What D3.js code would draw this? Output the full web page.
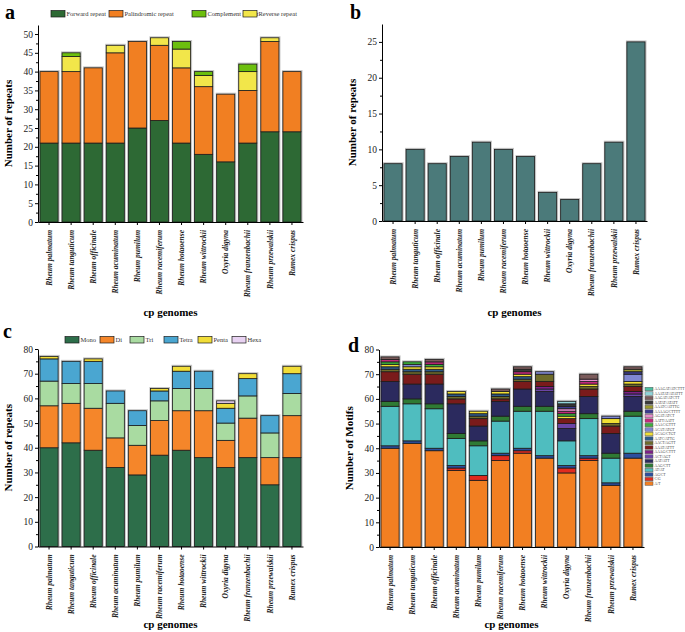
<!DOCTYPE html>
<html>
<head>
<meta charset="utf-8">
<script src="https://cdn.jsdelivr.net/npm/d3@7"></script>
<style>
  body { margin: 0; background: #fff; }
  svg { font-family: "Liberation Serif", "Times New Roman", serif; }
</style>
</head>
<body>
<div id="chart"></div>
<script>
// genomes on the x axis (same for all four panels)
var species = ["Rheum palmatum", "Rheum tanguticum", "Rheum officinale", "Rheum acuminatum",
  "Rheum pumilum", "Rheum racemiferum", "Rheum hotaoense", "Rheum wittrockii",
  "Oxyria digyna", "Rheum franzenbachii", "Rheum przewalskii", "Rumex crispus"];

// panel a - long repeats
var repeatForward     = [21, 21, 21, 21, 25, 27, 21, 18, 16, 21, 24, 24];
var repeatPalindromic = [19, 19, 20, 24, 23, 20, 20, 18, 18, 14, 24, 16];
var repeatReverse     = [0, 4, 0, 2, 0, 2, 5, 3, 0, 5, 1, 0];
var repeatComplement  = [0, 1, 0, 0, 0, 0, 2, 1, 0, 2, 0, 0];

// panel b - tandem repeats
var tandemRepeats = [8, 10, 8, 9, 11, 10, 9, 4, 3, 8, 11, 25];

// panel c - SSR types
var ssrMono  = [40, 42, 39, 32, 29, 37, 39, 36, 32, 36, 25, 36];
var ssrDi    = [17, 16, 17, 12, 12, 14, 16, 19, 11, 16, 11, 17];
var ssrTri   = [10, 8, 10, 14, 8, 8, 9, 9, 7, 9, 10, 9];
var ssrTetra = [9, 9, 9, 5, 6, 4, 7, 7, 6, 7, 7, 8];
var ssrPenta = [1, 0, 1, 0, 0, 1, 2, 0, 2, 2, 0, 3];
var ssrHexa  = [0, 0, 0, 0, 0, 0, 0, 0, 1, 0, 0, 0];

// panel d - SSR motifs (bottom of the stack first)
var motifNames = ["A/T", "C/G", "AG/CT", "AT/AT", "AAG/CTT", "AAT/ATT", "ACT/AGT",
  "AAAG/CTTT", "AAAT/ATTT", "AACT/AGTT", "AATC/ATTG", "ACAG/CTGT", "ACAT/ATGT",
  "AAAC/GTTT", "AATT/AATT", "AGAT/ATCT", "AAAAG/CTTTT", "AAATC/ATTTG",
  "AATAT/ATATT", "AAGAT/ATCTT", "AAATAT/ATATTT", "AAAGAT/ATCTTT"];
var motifCounts = [
  [40, 42, 39, 31, 27, 35, 38, 36, 30, 35, 25, 36],
  [0, 0, 0, 1, 2, 2, 1, 0, 2, 1, 0, 0],
  [1, 1, 1, 1, 0, 1, 1, 1, 1, 1, 1, 2],
  [16, 15, 16, 11, 12, 13, 15, 18, 10, 15, 10, 15],
  [2, 2, 2, 2, 2, 2, 2, 2, 0, 2, 2, 2],
  [8, 6, 8, 12, 6, 6, 7, 6, 5, 7, 8, 6],
  [0, 0, 0, 0, 0, 0, 0, 1, 2, 0, 0, 1],
  [0, 0, 0, 0, 0, 0, 0, 1, 0, 0, 0, 1],
  [4, 4, 4, 2, 3, 1, 3, 2, 2, 3, 3, 2],
  [1, 1, 1, 1, 1, 1, 1, 3, 0, 1, 1, 1],
  [1, 1, 1, 1, 1, 1, 1, 0, 0, 0, 0, 0],
  [1, 1, 1, 1, 1, 1, 1, 0, 1, 1, 2, 1],
  [0, 1, 0, 0, 0, 0, 0, 1, 0, 0, 1, 3],
  [1, 1, 1, 0, 0, 0, 0, 0, 1, 0, 0, 0],
  [1, 0, 1, 0, 0, 0, 1, 0, 1, 1, 0, 0],
  [0, 0, 0, 0, 0, 0, 0, 0, 1, 1, 0, 0],
  [0, 0, 0, 0, 0, 0, 0, 0, 1, 0, 0, 1],
  [0, 0, 0, 0, 0, 0, 0, 0, 0, 0, 0, 1],
  [0, 0, 0, 0, 0, 0, 1, 0, 1, 0, 0, 0],
  [1, 0, 1, 0, 0, 1, 1, 0, 0, 2, 0, 1],
  [0, 0, 0, 0, 0, 0, 0, 0, 1, 0, 0, 0],
  [0, 0, 0, 0, 0, 0, 0, 0, 0, 0, 0, 0]
];
var motifColors = ["#f27f22", "#e02b1f", "#2c4f9e", "#4fbdbf", "#2f7a34", "#2b2a5e", "#6a45a6",
  "#7d1f87", "#7a1b1b", "#6e6b2a", "#2e5a88", "#f1df33", "#8088d2", "#3cb13c", "#c2287b",
  "#e68bcb", "#3b3b8c", "#9c9b2b", "#3a3a3a", "#7b5b5b", "#90d3d8", "#4cbfa0"];

var svg = d3.select("#chart")
  .append("svg")
  .attr("width", 685)
  .attr("height", 632);

function drawPanel(opt) {
  var x = d3.scaleBand()
    .domain(species)
    .range([opt.x0, opt.x1])
    .paddingInner(0.18)
    .paddingOuter(0.09);

  var y = d3.scaleLinear()
    .domain([0, opt.max])
    .range([opt.yBottom, opt.yTop]);

  var g = svg.append("g");

  var keys = opt.series.map(function(s, j) { return "k" + j; });
  var rows = species.map(function(name, i) {
    var r = {name: name};
    opt.series.forEach(function(s, j) { r["k" + j] = s[i]; });
    return r;
  });
  var stacked = d3.stack().keys(keys)(rows);

  // light grey halo behind each bar
  g.selectAll(".halo")
    .data(rows)
    .enter()
    .append("rect")
      .attr("x", function(d) { return x(d.name) - 1; })
      .attr("y", function(d) { return y(d3.sum(keys, function(k) { return d[k]; })) - 1.5; })
      .attr("width", x.bandwidth() + 2.5)
      .attr("height", function(d) { return y(0) - y(d3.sum(keys, function(k) { return d[k]; })) + 1.5; })
      .attr("fill", "#c4c4c4");

  g.selectAll(".layer")
    .data(stacked)
    .enter()
    .append("g")
      .attr("fill", function(d, i) { return opt.colors[i]; })
    .selectAll("rect")
    .data(function(d) { return d.filter(function(p) { return p[1] > p[0]; }); })
    .enter()
    .append("rect")
      .attr("x", function(d) { return x(d.data.name); })
      .attr("y", function(d) { return y(d[1]); })
      .attr("width", x.bandwidth())
      .attr("height", function(d) { return y(d[0]) - y(d[1]); })
      .attr("stroke", "#1c1c1c")
      .attr("stroke-width", 0.8);

  // Y axis with minor ticks
  var majors = d3.range(0, opt.max + 0.001, opt.step);
  var minors = majors.map(function(v) { return v + opt.step / 2; })
    .filter(function(v) { return v < opt.max; });

  g.append("g")
    .attr("transform", "translate(" + opt.x0 + ",0)")
    .call(d3.axisLeft(y).tickValues(minors).tickSize(2).tickSizeOuter(0).tickFormat(""))
    .call(function(a) { a.select(".domain").remove(); });

  g.append("g")
    .attr("transform", "translate(" + opt.x0 + ",0)")
    .style("font-family", "Liberation Serif")
    .call(d3.axisLeft(y).tickValues(majors).tickSize(3).tickPadding(2).tickSizeOuter(0))
    .selectAll("text")
      .style("font-size", "9.5px")
      .attr("fill", "#222");

  // X axis
  g.append("g")
    .attr("transform", "translate(0," + opt.yBottom + ")")
    .style("font-family", "Liberation Serif")
    .call(d3.axisBottom(x).tickSize(3).tickSizeOuter(0))
    .selectAll("text")
      .attr("transform", "rotate(-90)")
      .attr("x", -8)
      .attr("y", 0)
      .attr("dy", "0.35em")
      .style("text-anchor", "end")
      .style("font-size", "7.5px")
      .style("font-style", "italic")
      .style("font-weight", "bold")
      .attr("fill", "#222");

  g.append("text")
    .attr("transform", "rotate(-90)")
    .attr("x", -(opt.yTop + opt.yBottom) / 2)
    .attr("y", opt.x0 - 26)
    .style("text-anchor", "middle")
    .style("font-size", "11px")
    .style("font-weight", "bold")
    .text(opt.ylabel);

  g.append("text")
    .attr("x", (opt.x0 + opt.x1) / 2)
    .attr("y", opt.xlabelY)
    .style("text-anchor", "middle")
    .style("font-size", "11px")
    .style("font-weight", "bold")
    .text("cp genomes");

  g.append("text")
    .attr("x", opt.letterX)
    .attr("y", opt.letterY)
    .style("font-size", "20px")
    .style("font-weight", "bold")
    .text(opt.letter);
}

function drawLegendRow(items, colors, xs, yy) {
  items.forEach(function(t, i) {
    svg.append("rect")
      .attr("x", xs[i]).attr("y", yy - 3.5)
      .attr("width", 14).attr("height", 6.5)
      .attr("fill", colors[i])
      .attr("stroke", "#1c1c1c").attr("stroke-width", 0.7);
    svg.append("text")
      .attr("x", xs[i] + 15.5).attr("y", yy)
      .attr("dy", "0.35em")
      .style("font-size", "6.5px")
      .attr("fill", "#333")
      .text(t);
  });
}

// a
drawPanel({
  x0: 38, x1: 303, yTop: 25, yBottom: 222, max: 52.4, step: 5,
  series: [repeatForward, repeatPalindromic, repeatReverse, repeatComplement],
  colors: ["#2d6934", "#f17f22", "#f2e64a", "#6cbf0e"],
  ylabel: "Number of repeats", xlabelY: 316, letter: "a", letterX: 5, letterY: 19
});
drawLegendRow(["Forward repeat", "Palindromic repeat", "Complement repeat", "Reverse repeat"],
  ["#2d6934", "#f17f22", "#6cbf0e", "#f2e64a"], [51, 109, 192, 243], 14);

// b
drawPanel({
  x0: 382, x1: 647, yTop: 24, yBottom: 221, max: 27.5, step: 5,
  series: [tandemRepeats],
  colors: ["#4b7a7a"],
  ylabel: "Number of repeats", xlabelY: 316, letter: "b", letterX: 350, letterY: 19
});

// c
drawPanel({
  x0: 38, x1: 303, yTop: 349, yBottom: 546.5, max: 80, step: 10,
  series: [ssrMono, ssrDi, ssrTri, ssrTetra, ssrPenta, ssrHexa],
  colors: ["#2d6e4a", "#f5862a", "#a9dba1", "#4aa6d1", "#f1dd38", "#e8d2f2"],
  ylabel: "Number of repeats", xlabelY: 628, letter: "c", letterX: 3, letterY: 338
});
drawLegendRow(["Mono", "Di", "Tri", "Tetra", "Penta", "Hexa"],
  ["#2d6e4a", "#f5862a", "#a9dba1", "#4aa6d1", "#f1dd38", "#e8d2f2"],
  [65, 100, 130, 164, 198, 232], 340);

// d
drawPanel({
  x0: 379, x1: 644, yTop: 349.5, yBottom: 547, max: 80, step: 10,
  series: motifCounts,
  colors: motifColors,
  ylabel: "Number of Motifs", xlabelY: 628, letter: "d", letterX: 348, letterY: 352
});

// motif legend, top entry is the last series
var legD = svg.append("g");
motifNames.slice().reverse().forEach(function(t, i) {
  var c = motifColors[motifNames.length - 1 - i];
  var yy = 389 + i * 4.5;
  legD.append("rect")
    .attr("x", 645).attr("y", yy - 1.7)
    .attr("width", 8).attr("height", 3.5)
    .attr("fill", c)
    .attr("stroke", "#555").attr("stroke-width", 0.5);
  legD.append("text")
    .attr("x", 654.5).attr("y", yy)
    .attr("dy", "0.35em")
    .style("font-size", "3.7px")
    .attr("fill", "#444")
    .text(t);
});
</script>
</body>
</html>
